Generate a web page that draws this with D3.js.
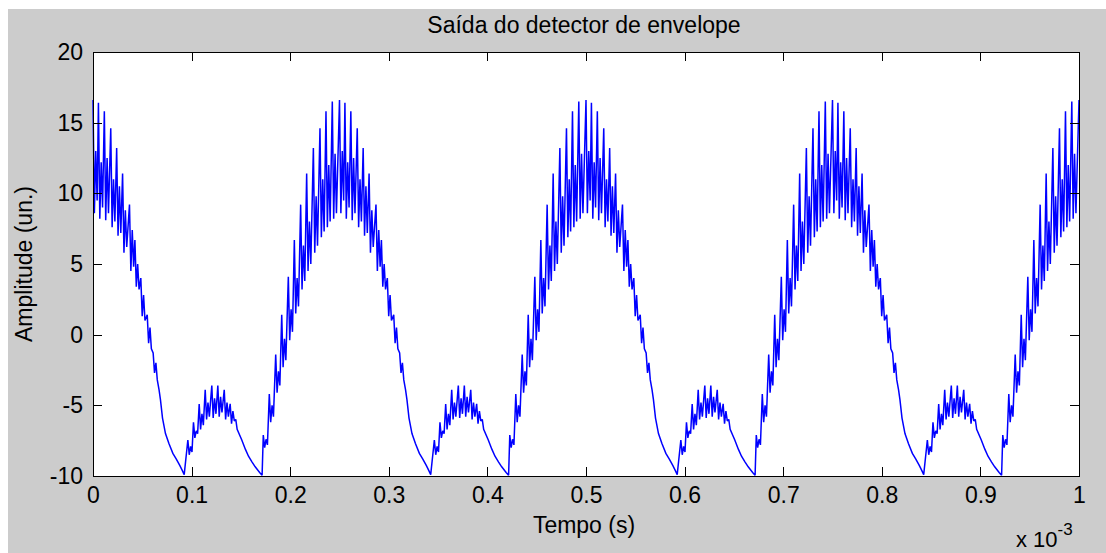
<!DOCTYPE html>
<html><head><meta charset="utf-8">
<script src="https://cdn.jsdelivr.net/npm/d3@7"></script>
<style>
html,body{margin:0;padding:0;background:#fff;}
svg{display:block;}
text{font-family:"Liberation Sans",Arial,sans-serif;fill:#000;}
</style></head><body>
<svg id="chart" width="1106" height="553"></svg>
<script>
// ---- Text ----
const titleText = "Saída do detector de envelope";
const xLabelText = "Tempo (s)";
const yLabelText = "Amplitude (un.)";
const xTicks = [0, 0.1, 0.2, 0.3, 0.4, 0.5, 0.6, 0.7, 0.8, 0.9, 1];
const xTickLabels = ["0", "0.1", "0.2", "0.3", "0.4", "0.5", "0.6", "0.7", "0.8", "0.9", "1"];
const yTicks = [-10, -5, 0, 5, 10, 15, 20];
const yTickLabels = ["-10", "-5", "0", "5", "10", "15", "20"];

// ---- Data (time in units of 10^-3 s) ----
// The picture repeats the same message period; these are the starts of each period seen.
const periodStart = [0, 0.25, 0.5, 0.75, 1.0];
// Carrier ripple within one period (times relative to the period start).
const rippleTime = [0, 0.0055, 0.0115, 0.018, 0.024, 0.030, 0.037, 0.0425, 0.0485, 0.055, 0.061, 0.067,
  0.0962, 0.1019, 0.1077, 0.1138, 0.1205, 0.1266, 0.1331, 0.1391, 0.1448,
  0.1727, 0.1788, 0.1853, 0.1914, 0.1981, 0.2042, 0.2106, 0.2167, 0.2235, 0.2302, 0.2363, 0.2427];
const rippleHigh = [16.6, 16.4, 15.8, 14.6, 13.2, 11.4, 9.2, 6.7, 4.0, 1.4, -1.3, -3.9,
  -7.45, -6.2, -4.9, -3.9, -3.6, -3.6, -3.9, -4.9, -6.0,
  -7.1, -4.2, -1.4, 1.4, 4.1, 6.7, 9.2, 11.4, 13.2, 14.6, 15.8, 16.5];
const rippleLow = [8.6, 8.2, 8.1, 7.6, 7.0, 5.8, 4.5, 3.4, 1.3, -0.6, -2.7, -4.6,
  -8.5, -7.3, -6.7, -6.0, -5.9, -5.8, -6.0, -6.3, -6.7,
  -8.0, -6.2, -4.1, -2.3, -0.4, 1.5, 3.2, 4.5, 5.8, 6.9, 7.6, 8.2];
const rippleMid = [13.0, 12.2, 12.5, 11.0, 10.5, 8.8, 7.4, 5.0, 2.8, 0.5, -2.0, null,
  -7.9, -6.8, -5.6, -4.8, -4.5, -4.4, -4.8, -5.4, null,
  -7.4, -5.0, -2.6, -0.3, 1.8, 4.0, 6.3, 8.0, 9.8, 11.0, 12.0, 12.8];
const rippleLow2 = [9.5, 9.0, 8.6, 8.0, 7.2, 6.2, 4.8, 3.2, 1.0, -1.0, -3.2, null,
  -8.3, -7.0, -6.4, -5.8, -5.6, -5.5, -5.8, -6.1, null,
  -7.8, -5.8, -3.6, -1.8, 0.2, 2.0, 3.8, 5.0, 6.3, 7.3, 8.0, 8.6];
// sub-sample offsets of the four strokes inside one carrier cycle
const strokeOffset = [0, 0.0014, 0.0028, 0.0042];
// Smooth discharge stretches (relative times and values)
const smoothTime = [0.0705, 0.0735, 0.077, 0.081, 0.0845, 0.088, 0.0905, 0.0925,
  0.1509, 0.1545, 0.1577, 0.1612, 0.1645, 0.169, 0.1715];
const smoothValue = [-5.9, -7.0, -7.7, -8.4, -8.8, -9.25, -9.6, -9.9,
  -7.45, -8.1, -8.6, -9.0, -9.35, -9.75, -9.95];

(function () {
// ---- Build samples ----
const samples = [];
periodStart.forEach(s => {
  rippleTime.forEach((t, i) => {
    [rippleHigh[i], rippleLow[i], rippleMid[i], rippleLow2[i]].forEach((v, j) => {
      if (v !== null) samples.push([s + t + strokeOffset[j], v]);
    });
  });
  smoothTime.forEach((t, i) => samples.push([s + t, smoothValue[i]]));
});
samples.sort((a, b) => a[0] - b[0]);
const series = samples.filter(d => d[0] >= 0 && d[0] <= 1.0000001);

// ---- Layout ----
const W = 1106, H = 553;
const pL = 93, pR = 1079, pT = 52, pB = 476;
const svg = d3.select("#chart");

svg.append("rect").attr("x", 8).attr("y", 9).attr("width", W - 8).attr("height", H - 9).attr("fill", "#cccccc");
svg.append("rect").attr("x", pL).attr("y", pT).attr("width", pR - pL).attr("height", pB - pT).attr("fill", "#ffffff");

const x = d3.scaleLinear().domain([0, 1]).range([pL, pR]);
const y = d3.scaleLinear().domain([-10, 20]).range([pB, pT]);

svg.append("path").datum(series)
  .attr("fill", "none").attr("stroke", "#0000ff").attr("stroke-width", 1.5)
  .attr("stroke-linejoin", "miter").attr("stroke-miterlimit", 2)
  .attr("d", d3.line().x(d => x(d[0])).y(d => y(d[1])));

const fs = 23;
function styleAxis(g) {
  g.select(".domain").remove();
  g.selectAll(".tick line").attr("stroke", "#000").attr("shape-rendering", "crispEdges");
  g.selectAll("text").attr("font-size", fs).attr("fill", "#000").attr("font-family", '"Liberation Sans",Arial,sans-serif');
}
svg.append("g").attr("transform", `translate(0,${pB})`)
  .call(d3.axisBottom(x).tickValues(xTicks).tickFormat((d, i) => xTickLabels[i]).tickSizeInner(-9).tickSizeOuter(0).tickPadding(11))
  .call(styleAxis);
svg.append("g").attr("transform", `translate(0,${pT})`)
  .call(d3.axisTop(x).tickValues(xTicks).tickFormat("").tickSizeInner(-9).tickSizeOuter(0))
  .call(styleAxis);
svg.append("g").attr("transform", `translate(${pL},0)`)
  .call(d3.axisLeft(y).tickValues(yTicks).tickFormat((d, i) => yTickLabels[i]).tickSizeInner(-9).tickSizeOuter(0).tickPadding(10))
  .call(styleAxis);
svg.append("g").attr("transform", `translate(${pR},0)`)
  .call(d3.axisRight(y).tickValues(yTicks).tickFormat("").tickSizeInner(-9).tickSizeOuter(0))
  .call(styleAxis);

svg.append("rect").attr("x", pL).attr("y", pT).attr("width", pR - pL).attr("height", pB - pT)
  .attr("fill", "none").attr("stroke", "#000").attr("stroke-width", 1).attr("shape-rendering", "crispEdges");

svg.append("text").attr("x", 584).attr("y", 33).attr("text-anchor", "middle")
  .attr("font-size", fs).text(titleText);
svg.append("text").attr("x", 584).attr("y", 533).attr("text-anchor", "middle")
  .attr("font-size", fs).text(xLabelText);
svg.append("text").attr("transform", `translate(32,${(pT + pB) / 2}) rotate(-90)`).attr("text-anchor", "middle")
  .attr("font-size", fs).text(yLabelText);
const mult = svg.append("text").attr("x", 1016).attr("y", 547).attr("font-size", 22);
mult.append("tspan").text("x 10");
mult.append("tspan").attr("dy", -12).attr("font-size", 17).text("-3");
})();
</script>
</body></html>
